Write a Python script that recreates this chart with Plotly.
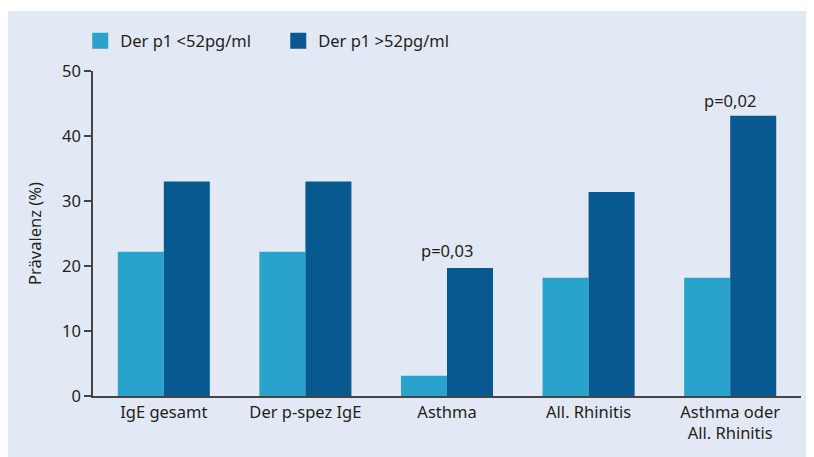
import plotly.graph_objects as go

categories = ["IgE gesamt", "Der p-spez IgE", "Asthma", "All. Rhinitis", "Asthma oder<br>All. Rhinitis"]
low_values = [22.2, 22.2, 3.1, 18.2, 18.2]
high_values = [33.0, 33.0, 19.7, 31.4, 43.1]
series_names = ["Der p1 <52pg/ml", "Der p1 >52pg/ml"]
p_labels = [(2, 22.4, "p=0,03"), (4, 45.5, "p=0,02")]
y_ticks = [0, 10, 20, 30, 40, 50]

LIGHT = "#29A2CC"
DARK = "#07598F"
PANEL = "#E2E9F5"
TXT = "#231F20"
FONT = "Noto Sans"
FS = 16.5

W, H = 814, 449
L, R, T, B = 85, 21, 63, 61
PW, PH = W - L - R, H - T - B

x_idx = list(range(len(categories)))

fig = go.Figure()
fig.add_trace(go.Bar(x=x_idx, y=low_values, name=series_names[0], marker_color=LIGHT,
                     marker_line_width=0, showlegend=False))
fig.add_trace(go.Bar(x=x_idx, y=high_values, name=series_names[1], marker_color=DARK,
                     marker_line_width=0, showlegend=False))
# legend entries with larger square symbols
for nm, col in zip(series_names, [LIGHT, DARK]):
    fig.add_trace(go.Scatter(x=[None], y=[None], mode="markers", name=nm,
                             marker=dict(symbol="square", size=16, color=col)))

for xi, yv, txt in p_labels:
    fig.add_annotation(x=xi, y=yv, text=txt, showarrow=False,
                       font=dict(family=FONT, size=FS, color=TXT))

# white strip along the top of the figure (panel starts slightly below)
fig.add_shape(type="rect", xref="paper", yref="paper",
              x0=-L / PW, x1=(W - L) / PW,
              y0=(PH + T - 3) / PH, y1=(PH + T) / PH,
              fillcolor="white", line_width=0, layer="below")

fig.update_layout(
    width=W, height=H,
    margin=dict(l=L, r=R, t=T, b=B),
    paper_bgcolor=PANEL, plot_bgcolor="rgba(0,0,0,0)",
    barmode="group", bargap=0.35, bargroupgap=0,
    font=dict(family=FONT, size=FS, color=TXT),
    legend=dict(orientation="h", x=-0.018, y=1.092, xanchor="left", yanchor="middle",
                bgcolor="rgba(0,0,0,0)", font=dict(size=16.5), itemwidth=30,
                entrywidth=153, entrywidthmode="pixels", tracegroupgap=0),
    xaxis=dict(tickmode="array", tickvals=x_idx, ticktext=categories,
               range=[-0.5, 4.5], showline=True, linecolor="#444", linewidth=1.5,
               ticks="", showgrid=False, zeroline=False, fixedrange=True),
    yaxis=dict(range=[0, 50], tickvals=y_ticks, showline=True, linecolor="#444",
               linewidth=1.5, ticks="outside", ticklen=7, tickwidth=1.5, tickcolor="#444",
               showgrid=False, zeroline=False,
               title=dict(text="Prävalenz (%)", standoff=16, font=dict(size=FS))),
)

fig.write_html("out.html")
